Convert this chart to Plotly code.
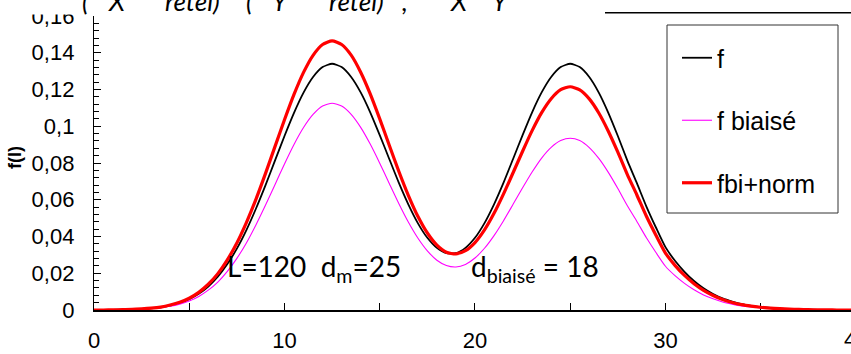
import plotly.graph_objects as go

# sample grid of the curves (every 0.5)
x_vals = [i / 2 for i in range(81)]

f_vals = [
    0.0000, 0.0000, 0.0001, 0.0002, 0.0003, 0.0005, 0.0009, 0.0015, 0.0024, 0.0038,
    0.0059, 0.0088, 0.0128, 0.0181, 0.0250, 0.0334, 0.0435, 0.0551, 0.0678, 0.0813,
    0.0947, 0.1073, 0.1183, 0.1268, 0.1322, 0.1340, 0.1322, 0.1268, 0.1184, 0.1076,
    0.0952, 0.0822, 0.0693, 0.0575, 0.0473, 0.0393, 0.0338, 0.0309, 0.0309, 0.0338,
    0.0393, 0.0473, 0.0575, 0.0693, 0.0822, 0.0952, 0.1076, 0.1184, 0.1268, 0.1322,
    0.1340, 0.1322, 0.1268, 0.1183, 0.1073, 0.0947, 0.0813, 0.0690, 0.0563, 0.0449,
    0.0342, 0.0268, 0.0208, 0.0158, 0.0118, 0.0087, 0.0063, 0.0046, 0.0032, 0.0023,
    0.0016, 0.0011, 0.0007, 0.0005, 0.0003, 0.0002, 0.0001, 0.0001, 0.0001, 0.0000,
    0.0000,
]

f_biaise_vals = [
    0.0000, 0.0000, 0.0001, 0.0001, 0.0003, 0.0004, 0.0008, 0.0013, 0.0020, 0.0032,
    0.0049, 0.0074, 0.0108, 0.0152, 0.0210, 0.0281, 0.0365, 0.0463, 0.0570, 0.0682,
    0.0795, 0.0901, 0.0993, 0.1064, 0.1110, 0.1125, 0.1110, 0.1065, 0.0994, 0.0903,
    0.0799, 0.0689, 0.0580, 0.0479, 0.0392, 0.0322, 0.0271, 0.0242, 0.0234, 0.0248,
    0.0283, 0.0336, 0.0405, 0.0486, 0.0575, 0.0665, 0.0751, 0.0827, 0.0885, 0.0922,
    0.0935, 0.0922, 0.0884, 0.0825, 0.0749, 0.0661, 0.0567, 0.0482, 0.0393, 0.0313,
    0.0238, 0.0187, 0.0145, 0.0110, 0.0082, 0.0061, 0.0044, 0.0032, 0.0022, 0.0016,
    0.0011, 0.0008, 0.0005, 0.0004, 0.0002, 0.0002, 0.0001, 0.0001, 0.0000, 0.0000,
    0.0000,
]

fbi_norm_vals = [
    0.0000, 0.0000, 0.0001, 0.0002, 0.0003, 0.0006, 0.0010, 0.0016, 0.0027, 0.0042,
    0.0064, 0.0096, 0.0140, 0.0198, 0.0273, 0.0365, 0.0476, 0.0602, 0.0742, 0.0889,
    0.1035, 0.1173, 0.1293, 0.1386, 0.1445, 0.1465, 0.1445, 0.1387, 0.1294, 0.1176,
    0.1040, 0.0897, 0.0755, 0.0624, 0.0510, 0.0419, 0.0353, 0.0314, 0.0305, 0.0323,
    0.0367, 0.0436, 0.0526, 0.0632, 0.0747, 0.0864, 0.0976, 0.1074, 0.1150, 0.1199,
    0.1215, 0.1198, 0.1149, 0.1072, 0.0973, 0.0859, 0.0737, 0.0626, 0.0510, 0.0407,
    0.0310, 0.0243, 0.0188, 0.0143, 0.0107, 0.0079, 0.0057, 0.0041, 0.0029, 0.0021,
    0.0015, 0.0010, 0.0007, 0.0005, 0.0003, 0.0002, 0.0001, 0.0001, 0.0000, 0.0000,
    0.0000,
]

series_names = ["f", "f biaisé", "fbi+norm"]
y_title = "f(l)"
note_left = "L=120  d<sub>m</sub>=25"
note_right = "d<sub>biaisé</sub> = 18"
x_max_label = "40"  # last x tick, only partly visible at the right edge

# layout in pixels
W, H = 851, 354
ML, MT, MB = 94, 16, 44
PW, PH = W - ML, H - MT - MB
X_RANGE = [0, 39.74]


def px_x(px):
    return (px - ML) / PW


def px_y(py):
    return 1 - (py - MT) / PH


SANS = "Liberation Sans, Arial, sans-serif"

fig = go.Figure()

styles = [
    dict(color="#000000", width=1.8),
    dict(color="#FF00FF", width=1.1),
    dict(color="#FF0000", width=3.2),
]
for name, vals, st, grp in zip(series_names, [f_vals, f_biaise_vals, fbi_norm_vals], styles, "abc"):
    fig.add_trace(go.Scatter(
        x=x_vals, y=vals, name=name, mode="lines",
        line=dict(color=st["color"], width=st["width"], shape="spline", smoothing=0.6),
        legendgroup=grp,
    ))

fig.update_layout(
    width=W, height=H,
    margin=dict(l=ML, r=0, t=MT, b=MB, pad=0),
    paper_bgcolor="white", plot_bgcolor="white",
    separators=", ",
    font=dict(family=SANS, size=22, color="black"),
    showlegend=True,
    legend=dict(
        x=px_x(677), y=px_y(35), xanchor="left", yanchor="top",
        bgcolor="rgba(0,0,0,0)", borderwidth=0,
        font=dict(family=SANS, size=25, color="black"),
        tracegroupgap=27, traceorder="grouped",
    ),
)

fig.update_xaxes(
    range=X_RANGE, dtick=10, tick0=0,
    ticks="inside", ticklen=7, tickwidth=1.2, tickcolor="black",
    minor=dict(dtick=5, ticks="inside", ticklen=7, tickwidth=1.2, tickcolor="black"),
    showline=True, linecolor="black", linewidth=2,
    showgrid=False, zeroline=False, automargin=False,
    ticklabelstandoff=10,
    tickfont=dict(family=SANS, size=22, color="black"),
    layer="below traces",
)
fig.update_yaxes(
    range=[0, 0.16], dtick=0.02, tick0=0,
    ticks="inside", ticklen=7, tickwidth=1.2, tickcolor="black",
    minor=dict(dtick=0.004, ticks="inside", ticklen=5, tickwidth=1, tickcolor="black"),
    showline=True, linecolor="black", linewidth=1.3,
    showgrid=False, zeroline=False, automargin=False,
    ticklabelstandoff=14,
    tickfont=dict(family=SANS, size=22, color="black"),
)

# white band at the top (covers the top of the chart like in the source)
fig.add_shape(type="rect", xref="paper", yref="paper",
              x0=px_x(0), x1=px_x(W), y0=px_y(14.5), y1=px_y(-5),
              fillcolor="white", line_width=0, layer="above")
fig.add_shape(type="line", xref="paper", yref="paper",
              x0=px_x(605), x1=px_x(W), y0=px_y(12.7), y1=px_y(12.7),
              line=dict(color="black", width=1.5), layer="above")
# legend frame
fig.add_shape(type="rect", xref="paper", yref="paper",
              x0=px_x(667), x1=px_x(838), y0=px_y(213), y1=px_y(25),
              line=dict(color="#333333", width=1), fillcolor="rgba(0,0,0,0)", layer="above")

# y axis title
fig.add_annotation(text="<b>" + y_title + "</b>", textangle=-90,
                   xref="paper", yref="paper", x=px_x(15), y=px_y(158),
                   xanchor="center", yanchor="middle",
                   showarrow=False, font=dict(family=SANS, size=18, color="black"))

# "40" tick label cut by the right edge (outside the axis range)
fig.add_annotation(text=x_max_label, xref="paper", yref="paper",
                   x=40 / X_RANGE[1], y=px_y(340), xanchor="center", yanchor="middle",
                   showarrow=False, font=dict(family=SANS, size=22, color="black"))

# text notes inside the plot
fig.add_annotation(text=note_left, xref="x", yref="y", x=6.9, y=0.0228,
                   xanchor="left", yanchor="middle", showarrow=False,
                   font=dict(family="Lato, Carlito, sans-serif", size=28, color="black"))
fig.add_annotation(text=note_right, xref="x", yref="y", x=19.7, y=0.0228,
                   xanchor="left", yanchor="middle", showarrow=False,
                   font=dict(family="Lato, Carlito, sans-serif", size=28, color="black"))

# cut-off formula at the very top
top_pieces = [("(", 86), ("X", 117), ("retel)", 192), ("(", 250), ("Y", 280),
              ("retel)", 356), (",", 405), ("X", 459), ("Y", 500)]
for txt, xp in top_pieces:
    fig.add_annotation(text="<i>" + txt + "</i>", xref="paper", yref="paper",
                       x=px_x(xp), y=px_y(19), xanchor="center", yanchor="bottom",
                       showarrow=False,
                       font=dict(family="Lato, sans-serif", size=26, color="black"))

fig.write_html("out.html", config={"displayModeBar": False},
               post_script="document.body.style.margin='0';document.body.style.overflow='hidden';")
